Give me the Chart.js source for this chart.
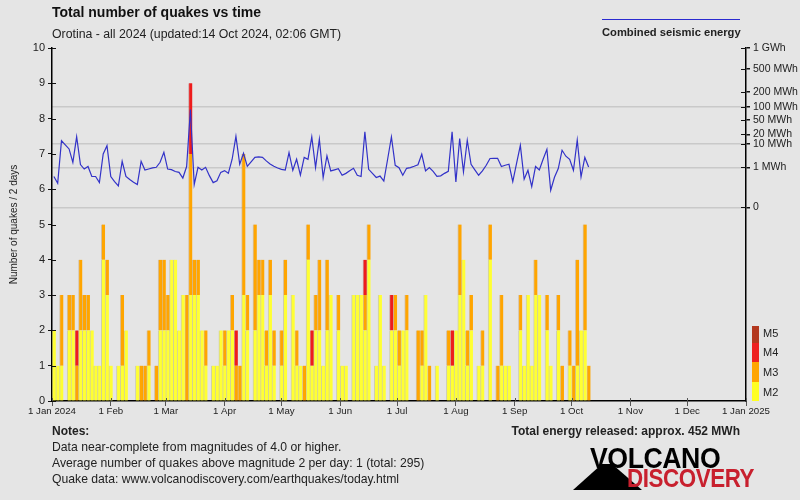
<!DOCTYPE html>
<html><head><meta charset="utf-8">
<script src="https://cdn.jsdelivr.net/npm/chart.js@4/dist/chart.umd.min.js"></script>
<style>
html,body{margin:0;padding:0;background:#e5e5e5;}
#wrap{position:relative;width:800px;height:500px;overflow:hidden;font-family:"Liberation Sans",Arial,sans-serif;color:#222;background:#e5e5e5;}
canvas{position:absolute;left:0;top:0;}
.t{position:absolute;white-space:nowrap;}
</style></head><body>
<div id="wrap">
<canvas id="c" width="800" height="500"></canvas>
<div class="t" style="left:52px;top:4px;font-size:14px;font-weight:bold;line-height:16px;color:#111">Total number of quakes vs time</div>
<div class="t" style="left:52px;top:27px;font-size:12.3px;line-height:14px;">Orotina - all 2024 (updated:14 Oct 2024, 02:06 GMT)</div>
<div style="position:absolute;left:602px;top:19px;width:138px;height:1px;background:#2a2ad0"></div>
<div class="t" style="left:602px;top:25px;font-size:11.2px;font-weight:bold;line-height:14px;">Combined seismic energy</div>
<div class="t" style="left:52px;top:424px;font-size:12px;font-weight:bold;line-height:14px;">Notes:</div>
<div class="t" style="left:52px;top:440px;font-size:12.2px;line-height:14px;">Data near-complete from magnitudes of 4.0 or higher.</div>
<div class="t" style="left:52px;top:456px;font-size:12.2px;line-height:14px;">Average number of quakes above magnitude 2 per day: 1 (total: 295)</div>
<div class="t" style="left:52px;top:472px;font-size:12.2px;line-height:14px;">Quake data: www.volcanodiscovery.com/earthquakes/today.html</div>
<div class="t" style="right:60px;top:424px;font-size:12px;font-weight:bold;line-height:14px;">Total energy released: approx. 452 MWh</div>
<div style="position:absolute;left:752px;top:326px;width:7px;height:17px;background:#b3381f"></div>
<div style="position:absolute;left:752px;top:343px;width:7px;height:19px;background:#ee2020"></div>
<div style="position:absolute;left:752px;top:362px;width:7px;height:20px;background:#ffa500"></div>
<div style="position:absolute;left:752px;top:382px;width:7px;height:19px;background:#ffff22"></div>
<div class="t" style="left:763px;top:326px;font-size:11px;line-height:14px;">M5</div>
<div class="t" style="left:763px;top:345px;font-size:11px;line-height:14px;">M4</div>
<div class="t" style="left:763px;top:365px;font-size:11px;line-height:14px;">M3</div>
<div class="t" style="left:763px;top:385px;font-size:11px;line-height:14px;">M2</div>
<svg style="position:absolute;left:570px;top:458px" width="80" height="34"><polygon points="3,32 32,6 42,6 72,32" fill="#000"/></svg>
<div class="t" style="left:590px;top:443px;font-size:29px;font-weight:bold;line-height:30px;color:#000;transform:scaleX(0.92);transform-origin:0 0;letter-spacing:-0.5px">VOLCANO</div>
<div class="t" style="left:627px;top:465px;font-size:26px;font-weight:bold;line-height:27px;color:#c8202e;transform:scaleX(0.86);transform-origin:0 0;letter-spacing:-0.5px">DISCOVERY</div>
</div>
<script>
// ---- data (2-day bins starting 1 Jan 2024) ----
const monthDays   = [0,31,60,91,121,152,182,213,244,274,305,335,366];
const monthLabels = ['1 Jan 2024','1 Feb','1 Mar','1 Apr','1 May','1 Jun','1 Jul','1 Aug','1 Sep','1 Oct','1 Nov','1 Dec','1 Jan 2025'];
const yTicks = [0,1,2,3,4,5,6,7,8,9,10];

const m2Counts = [2,1,1,0,2,2,0,2,2,2, 2,1,1,4,3,1,0,1,1,2, 0,0,1,0,0,1,0,0,2,2, 2,4,4,2,3,0,3,3,3,2,
  1,0,1,1,2,1,2,2,0,0, 3,2,0,2,3,3,1,3,1,0, 1,3,0,3,1,1,0,4,1,2, 2,1,2,3,0,2,1,1,0,3,
  3,3,2,4,0,1,3,1,0,2, 2,1,2,2,0,0,0,1,3,0, 0,1,0,0,1,1,2,3,4,1, 2,0,1,1,0,4,0,0,1,1,
  1,0,0,2,1,3,1,3,3,0, 2,1,0,2,0,0,1,0,1,2, 2,0];
const m3Counts = [0,0,2,0,1,1,1,2,1,1, 0,0,0,1,1,0,0,0,2,0, 0,0,0,1,1,1,0,1,2,2, 1,0,0,0,0,3,4,1,1,0,
  1,0,0,0,0,1,0,1,1,1, 4,1,0,3,1,1,1,1,1,0, 1,1,0,0,1,0,1,1,0,1, 2,0,2,0,0,1,0,0,0,0,
  0,0,1,1,0,0,0,0,0,0, 1,1,0,1,0,0,2,1,0,1, 0,0,0,0,1,0,0,2,0,1, 1,0,0,1,0,1,0,1,2,0,
  0,0,0,1,0,0,0,1,0,0, 1,0,0,1,1,0,1,1,3,0, 3,1];
const m4Counts = [0,0,0,0,0,0,1,0,0,0, 0,0,0,0,0,0,0,0,0,0, 0,0,0,0,0,0,0,0,0,0, 0,0,0,0,0,0,2,0,0,0,
  0,0,0,0,0,0,0,0,1,0, 0,0,0,0,0,0,0,0,0,0, 0,0,0,0,0,0,0,0,1,0, 0,0,0,0,0,0,0,0,0,0,
  0,0,1,0,0,0,0,0,0,1, 0,0,0,0,0,0,0,0,0,0, 0,0,0,0,0,1,0,0,0,0, 0,0,0,0,0,0,0,0,0,0,
  0,0,0,0,0,0,0,0,0,0, 0,0,0,0,0,0,0,0,0,0, 0,0];
const m5Counts = new Array(142).fill(0);
// combined seismic energy per 2-day bin, MWh
const energyMWh = [0.27,0.078,12.9,9.3,6.6,1.8,17,1.4,0.8,1.1, 0.27,0.27,0.09,4.2,8.7,0.27,0.11,0.043,2.0,0.27,
  0.16,0.095,0.059,2.0,0.7,0.8,0.92,1.0,1.8,4.9, 0.8,0.74,0.57,0.51,0.21,1.1,87,0.059,1.0,0.7,
  1.0,0.31,0.09,0.13,0.51,0.65,0.44,2.5,17.6,1.44, 4.5,1.13,1.9,3.05,3.2,3.05,2.1,1.5,1.13,0.92,
  0.77,0.7,4.8,0.68,2.5,0.34,3.0,2.5,16.8,0.96, 14.2,0.23,3.5,0.62,0.72,0.83,0.33,0.44,0.63,0.88,
  0.33,0.27,24,0.77,0.44,0.23,0.29,0.12,2.5,16.8, 1.28,0.96,0.33,0.88,0.96,1.13,1.35,4.1,0.62,0.96,
  0.59,0.28,0.30,0.44,0.59,24,0.10,15,0.54,13.2, 1.44,0.72,0.33,0.62,1.28,2.7,2.76,2.76,1.1,1.28,
  1.44,0.11,1.6,8.9,0.17,0.68,0.037,1.1,0.7,2.5, 6.4,0.014,0.24,0.85,5.9,3.4,2.5,0.68,13.5,0.25,
  3.0,1.04];
const energyTickMWh    = [0,1,10,20,50,100,200,500,1000];
const energyTickLabels = ['0','1 MWh','10 MWh','20 MWh','50 MWh','100 MWh','200 MWh','500 MWh','1 GWh'];
const energyGridMWh    = [0,1,10,100];

// ---- build ----
const binDay = i => 2*i + 1;            // centre day of bin i
const root5 = e => Math.pow(e, 0.2);    // energy axis is 5th-root scaled
const toPts = arr => arr.map((v,i)=>v>0?{x:binDay(i),y:v}:null).filter(p=>p);

const barBase = {type:'bar', barThickness:3.8, borderWidth:{left:1}, borderSkipped:false, order:1, yAxisID:'y', xAxisID:'x'};
const crossTicks = {
  id:'crossTicks',
  afterDraw(chart){
    const c = chart.ctx, a = chart.chartArea;
    const y = chart.scales.y, y2 = chart.scales.y2, x = chart.scales.x;
    c.save(); c.lineWidth = 1;
    c.strokeStyle = '#111';
    y.ticks.forEach(t=>{const p=Math.round(y.getPixelForValue(t.value))+0.5; c.beginPath(); c.moveTo(a.left, p); c.lineTo(a.left+4, p); c.stroke();});
    y2.ticks.forEach(t=>{const p=Math.round(y2.getPixelForValue(t.value))+0.5; c.beginPath(); c.moveTo(a.right-5, p); c.lineTo(a.right, p); c.stroke();});
    c.strokeStyle = '#555';
    x.ticks.forEach(t=>{const p=Math.round(x.getPixelForValue(t.value))+0.5; c.beginPath(); c.moveTo(p, a.bottom-3); c.lineTo(p, a.bottom); c.stroke();});
    c.restore();
  }
};

new Chart(document.getElementById('c'), {
  data: {
    datasets: [
      Object.assign({label:'M2', data: toPts(m2Counts), backgroundColor:'#ffff33', borderColor:'rgba(150,150,40,0.3)'}, barBase),
      Object.assign({label:'M3', data: toPts(m3Counts), backgroundColor:'#ffa500', borderColor:'rgba(170,110,20,0.3)'}, barBase),
      Object.assign({label:'M4', data: toPts(m4Counts), backgroundColor:'#ee1c1c', borderColor:'rgba(150,20,20,0.3)'}, barBase),
      Object.assign({label:'M5', data: toPts(m5Counts), backgroundColor:'#b3381f', borderColor:'rgba(100,20,10,0.3)'}, barBase),
      {type:'line', label:'Combined seismic energy', order:0, yAxisID:'y2', xAxisID:'x',
       data: energyMWh.map((e,i)=>({x:binDay(i), y:root5(e)})),
       borderColor:'#3232c8', borderWidth:1.2, pointRadius:0, tension:0, fill:false}
    ]
  },
  options: {
    responsive:false, animation:false, devicePixelRatio:1,
    layout:{padding:{top:48,bottom:79,left:0,right:0}},
    plugins:{legend:{display:false}, tooltip:{enabled:false}},
    scales:{
      x:{type:'linear', min:0, max:366, offset:false, stacked:true,
         afterBuildTicks: s => { s.ticks = monthDays.map(v=>({value:v})); },
         afterFit: s => { s.height = 20; },
         ticks:{autoSkip:false, maxRotation:0, padding:0, color:'#222', font:{family:'Liberation Sans', size:9.7},
                callback:(v,i)=>monthLabels[i]},
         grid:{drawOnChartArea:false, offset:false, tickLength:5, tickColor:'#555'},
         border:{display:true, color:'#000', width:1.5}},
      y:{type:'linear', position:'left', min:0, max:10, stacked:true,
         afterBuildTicks: s => { s.ticks = yTicks.map(v=>({value:v})); },
         afterFit: s => { s.width = 52; },
         ticks:{padding:3, color:'#222', font:{family:'Liberation Sans', size:11}},
         grid:{drawOnChartArea:false, tickLength:4, tickColor:'#111'},
         border:{display:true, color:'#000', width:1.5},
         title:{display:true, text:'Number of quakes / 2 days', color:'#222', font:{family:'Liberation Sans', size:10}, padding:{top:8,bottom:0}}},
      y2:{type:'linear', position:'right', min:-4.84, max:root5(1000),
         afterBuildTicks: s => { s.ticks = energyTickMWh.map(e=>({value:root5(e)})); },
         afterFit: s => { s.width = 54; },
         ticks:{autoSkip:false, padding:3, color:'#222', font:{family:'Liberation Sans', size:10.5},
                callback:(v,i)=>energyTickLabels[i]},
         grid:{drawOnChartArea:true, lineWidth:1.5, tickLength:4, tickColor:'#111',
               color: ctx => energyGridMWh.includes(energyTickMWh[ctx.index]) ? '#c9c9c9' : 'rgba(0,0,0,0)'},
         border:{display:true, color:'#000', width:1.5}}
    }
  },
  plugins:[crossTicks]
});
</script>
</body></html>
